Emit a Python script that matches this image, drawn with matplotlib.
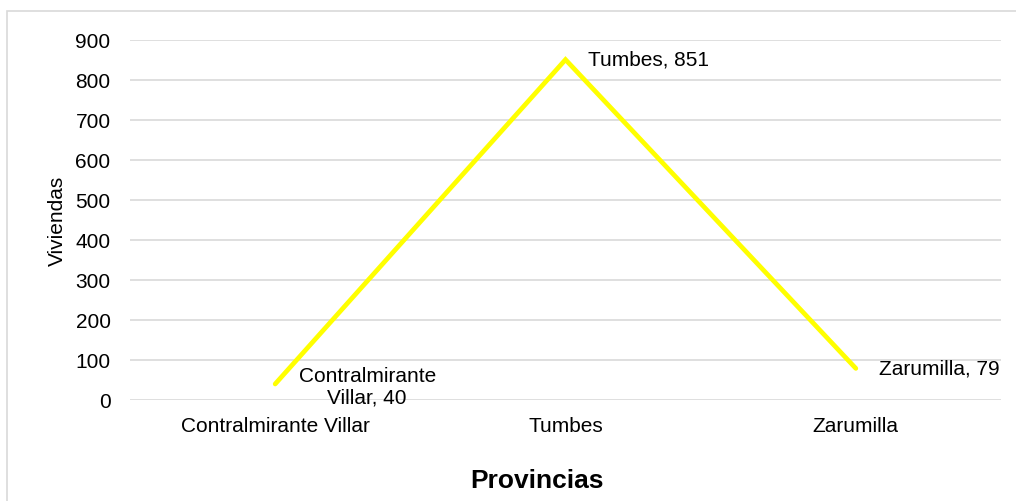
import matplotlib
matplotlib.use("Agg")
import matplotlib.pyplot as plt
from matplotlib.patches import Rectangle

categories = ["Contralmirante Villar", "Tumbes", "Zarumilla"]
values = [40, 851, 79]
data_labels = ["Contralmirante\nVillar, 40", "Tumbes, 851", "Zarumilla, 79"]
yticks = [0, 100, 200, 300, 400, 500, 600, 700, 800, 900]

plt.rcParams['font.family'] = ['Liberation Sans', 'DejaVu Sans']

W, H = 1016, 502
fig = plt.figure(figsize=(W / 100, H / 100), dpi=100)
fig.patch.set_facecolor("white")

# outer chart border (right and bottom edges fall outside the image)
fig.patches.append(Rectangle((6.5 / W, -0.2), 1.2, 1.2 - 11.5 / H, transform=fig.transFigure,
                             fill=False, edgecolor="#d9d9d9", linewidth=1.2))

ax = fig.add_axes([130 / W, 1 - 401 / H, (1001 - 130) / W, (401 - 41) / H])
x = list(range(len(categories)))
ax.plot(x, values, color="#FFFF00", linewidth=3.4, solid_capstyle="round",
        solid_joinstyle="miter", zorder=3)

ax.set_xlim(-0.5, len(categories) - 0.5)
ax.set_ylim(0, 900)
ax.set_yticks(yticks)
ax.set_yticklabels([str(v) for v in yticks])
ax.set_xticks(x)
ax.set_xticklabels(categories)
ax.tick_params(axis="both", length=0, labelsize=15, colors="black")
ax.tick_params(axis="y", pad=14)
ax.tick_params(axis="x", pad=11.5)
ax.grid(axis="y", color="#d9d9d9", linewidth=1.2)
ax.set_axisbelow(True)
for s in ax.spines.values():
    s.set_visible(False)

# data labels
ax.annotate(data_labels[0], (x[0], values[0]), xytext=(92, -2), textcoords="offset pixels",
            ha="center", va="center", fontsize=15, linespacing=1.15)
ax.annotate(data_labels[1], (x[1], values[1]), xytext=(22, 1), textcoords="offset pixels",
            ha="left", va="center", fontsize=15)
ax.annotate(data_labels[2], (x[2], values[2]), xytext=(23, 0), textcoords="offset pixels",
            ha="left", va="center", fontsize=15)

fig.text(57 / W, 1 - 221 / H, "Viviendas", rotation=90, ha="center", va="center", fontsize=15)
fig.text(537 / W, 1 - 481 / H, "Provincias", ha="center", va="center", fontsize=19,
         fontweight="bold")

fig.savefig("out.png", dpi=100, facecolor="white")
